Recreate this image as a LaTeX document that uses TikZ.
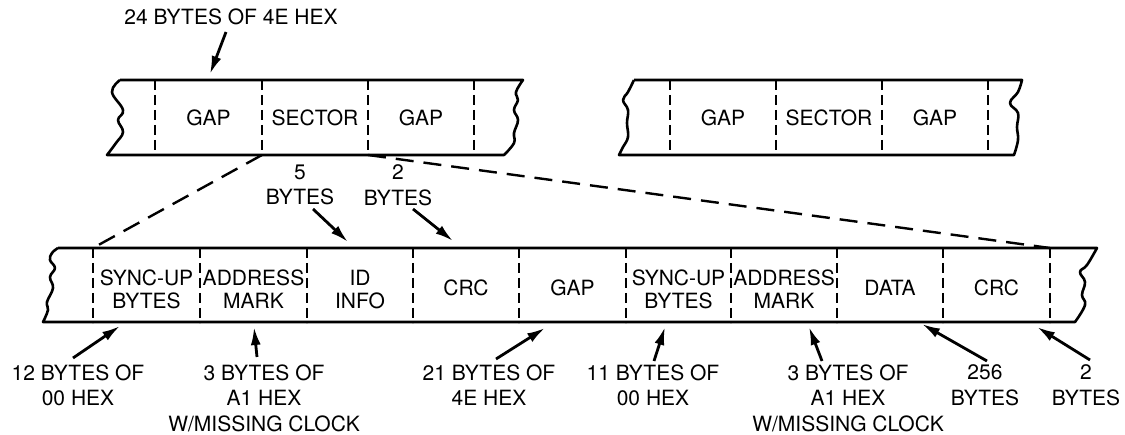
\documentclass[tikz,border=0pt]{standalone}
\usepackage{fontspec}
\setmainfont{TeX Gyre Heros}
\usetikzlibrary{arrows.meta}
\begin{document}
\begin{tikzpicture}[x=1pt,y=-1pt,
  outline/.style={line width=2.6pt, line join=round},
  divider/.style={line width=2pt, dash pattern=on 10pt off 5pt},
  proj/.style={line width=2.4pt, dash pattern=on 18pt off 10pt},
  arr/.style={line width=2.8pt, -{Latex[length=18pt,width=10pt]}},
  lbl/.style={inner sep=0pt, font=\fontsize{21}{25.5}\selectfont, align=center},
  cell/.style={inner sep=0pt, font=\fontsize{21}{23}\selectfont, align=center}]
\useasboundingbox (0,0) rectangle (1125,435);

% ---------- top-left strip ----------
\draw[outline] (120,80) -- (523,80)
  -- plot[smooth,tension=0.7] coordinates {(523,80) (516,92) (518,100) (514,110) (518,120) (514,133) (514,143) (504,155)}
  -- (107,155)
  -- plot[smooth,tension=0.7] coordinates {(107,155) (116,143) (123,132) (118,120) (123,110) (112,92) (120,80)};
\foreach \x in {155,262,368,474} \draw[divider] (\x,80) -- (\x,155);
\node[cell] (gapA) at (208.5,118) {GAP};
\node[cell] (secA) at (315,118) {SECTOR};
\node[cell] (gapB) at (421,118) {GAP};

% ---------- top-right strip ----------
\draw[outline] (634,80) -- (1022,80)
  -- plot[smooth,tension=0.7] coordinates {(1022,80) (1018,92) (1010,103) (1018,113) (1017,127) (1018,140) (1014,155)}
  -- (619,155)
  -- plot[smooth,tension=0.7] coordinates {(619,155) (623,147) (628,137) (627,123) (628,110) (623,100) (628,92) (634,80)};
\foreach \x in {670,776,882,988} \draw[divider] (\x,80) -- (\x,155);
\node[cell] (gapC) at (723,118) {GAP};
\node[cell] (secB) at (829,118) {SECTOR};
\node[cell] (gapD) at (935,118) {GAP};

% ---------- bottom strip ----------
\draw[outline] (58,248) -- (1097,248)
  -- plot[smooth,tension=0.7] coordinates {(1097,248) (1087,265) (1080,272) (1085,282) (1082,295) (1085,305) (1075,322)}
  -- (43,322)
  -- plot[smooth,tension=0.7] coordinates {(43,322) (48,310) (47,302) (53,288) (50,277) (55,268) (50,260) (52,253) (58,248)};
\foreach \x in {93,200,307,413,519,626,731,837,943,1050} \draw[divider] (\x,248) -- (\x,323);
\node[cell,anchor=north] (syncA) at (146.5,269.5) {SYNC-UP\\BYTES};
\node[cell,anchor=north] (addrA) at (253.5,269.5) {ADDRESS\\MARK};
\node[cell,anchor=north] (idinfo) at (360,269.5) {ID\\INFO};
\node[cell] (crcA) at (466,287.5) {CRC};
\node[cell] (gapE) at (572.5,287.5) {GAP};
\node[cell,anchor=north] (syncB) at (678.5,269.5) {SYNC-UP\\BYTES};
\node[cell,anchor=north] (addrB) at (784,269.5) {ADDRESS\\MARK};
\node[cell] (data) at (890,287.5) {DATA};
\node[cell] (crcB) at (996.5,287.5) {CRC};

% ---------- projection lines ----------
\coordinate (secL) at (262,155);
\coordinate (secR) at (368,155);
\coordinate (syncL) at (93,248);
\coordinate (crcR) at (1050,248);
\draw[proj] (secL) -- (syncL);
\draw[proj] (secR) -- (crcR);

% ---------- labels ----------
\node[lbl] (l24) at (231,17) {24 BYTES OF 4E HEX};
\node[lbl,anchor=north] (l5) at (300,164.5) {5\\BYTES};
\node[lbl,anchor=north] (l2) at (398,164.5) {2\\BYTES};
\node[lbl,anchor=north] (l12) at (78,364.5) {12 BYTES OF\\00 HEX};
\node[lbl,anchor=north] (l3a) at (264,364.5) {3 BYTES OF\\A1 HEX\\W/MISSING CLOCK};
\node[lbl,anchor=north] (l21) at (489,364.5) {21 BYTES OF\\4E HEX};
\node[lbl,anchor=north] (l11) at (653,364.5) {11 BYTES OF\\00 HEX};
\node[lbl,anchor=north] (l3b) at (848,364.5) {3 BYTES OF\\A1 HEX\\W/MISSING CLOCK};
\node[lbl,anchor=north] (l256) at (985,364.5) {256\\BYTES};
\node[lbl,anchor=north] (l2b) at (1086,364.5) {2\\BYTES};

% ---------- arrows ----------
\coordinate (s24) at (226,32);   \coordinate (t24) at (210,74);
\coordinate (s5) at (313,209);   \coordinate (t5) at (348,242);
\coordinate (s2) at (413,209);   \coordinate (t2) at (453,241);
\coordinate (s12) at (73,358);   \coordinate (t12) at (120,326);
\coordinate (s3a) at (257,357);  \coordinate (t3a) at (254,327);
\coordinate (s21) at (496,359);  \coordinate (t21) at (545,328);
\coordinate (s11) at (654,361);  \coordinate (t11) at (665,327);
\coordinate (s3b) at (822,361);  \coordinate (t3b) at (809,327);
\coordinate (s256) at (987,361); \coordinate (t256) at (922,324);
\coordinate (s2b) at (1090,360); \coordinate (t2b) at (1037,327);
\foreach \n in {24,5,2,12,3a,21,11,3b,256,2b} \draw[arr] (s\n) -- (t\n);
\end{tikzpicture}
\end{document}
